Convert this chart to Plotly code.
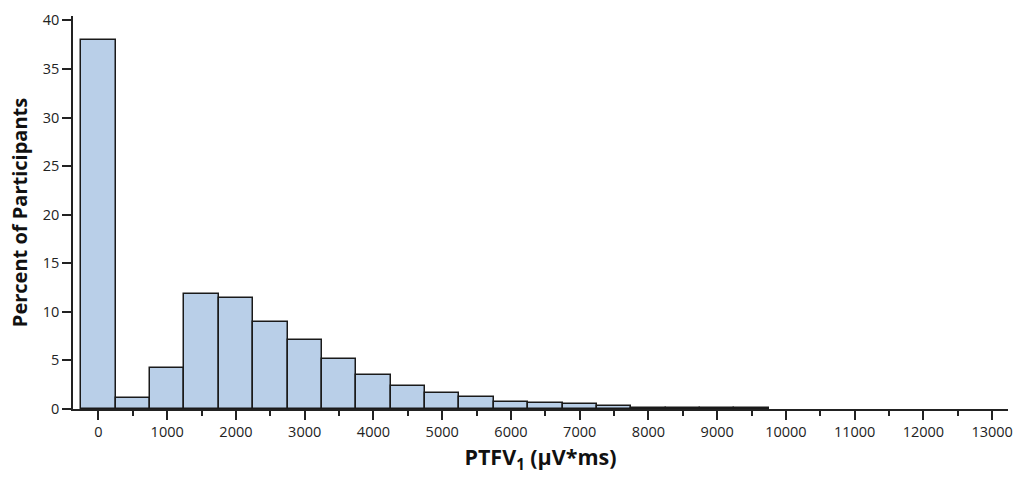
import plotly.graph_objects as go

# Histogram of PTFV1 values, 500 µV*ms bins (bin centres)
bin_centers = [0, 500, 1000, 1500, 2000, 2500, 3000, 3500, 4000, 4500,
               5000, 5500, 6000, 6500, 7000, 7500, 8000, 8500, 9000, 9500]
percent = [38.0, 1.15, 4.2, 11.8, 11.4, 9.0, 7.1, 5.1, 3.5, 2.4,
           1.65, 1.2, 0.7, 0.6, 0.5, 0.3, 0.06, 0.06, 0.06, 0.06]

x_tick_vals = list(range(0, 13001, 1000))
x_tick_text = [str(v) for v in x_tick_vals]
y_tick_vals = [0, 5, 10, 15, 20, 25, 30, 35, 40]

FONT = "Open Sans"

fig = go.Figure(
    go.Bar(
        x=bin_centers,
        y=percent,
        width=500,
        marker=dict(color="#b9cfe8", line=dict(color="#1a1a1a", width=1.5)),
    )
)

fig.update_layout(
    width=1024,
    height=483,
    margin=dict(l=73, r=12, t=11, b=74),
    paper_bgcolor="white",
    plot_bgcolor="white",
    showlegend=False,
    bargap=0,
    font=dict(family=FONT, color="#222222", size=14),
)

fig.update_xaxes(
    range=[-370, 13230],
    tickvals=x_tick_vals,
    ticktext=x_tick_text,
    ticks="outside",
    ticklen=9,
    tickwidth=1.5,
    tickcolor="#222222",
    showline=True,
    linecolor="#222222",
    linewidth=1.5,
    showgrid=False,
    zeroline=False,
    tickfont=dict(size=14.5),
    minor=dict(dtick=500, tick0=0, ticks="outside", ticklen=5,
               tickwidth=1.5, tickcolor="#222222", showgrid=False),
    title=dict(text="<b>PTFV<sub>1</sub> (µV*ms)</b>",
               font=dict(size=21.5, color="#111111"), standoff=10),
)

fig.update_yaxes(
    range=[0, 40.45],
    tickvals=y_tick_vals,
    ticks="outside",
    ticklen=9,
    tickwidth=1.5,
    tickcolor="#222222",
    showline=True,
    linecolor="#222222",
    linewidth=1.5,
    showgrid=False,
    zeroline=False,
    tickfont=dict(size=14.5),
    title=dict(text="<b>Percent of Participants</b>",
               font=dict(size=20, color="#111111"), standoff=10),
)

fig.write_html("out.html")
